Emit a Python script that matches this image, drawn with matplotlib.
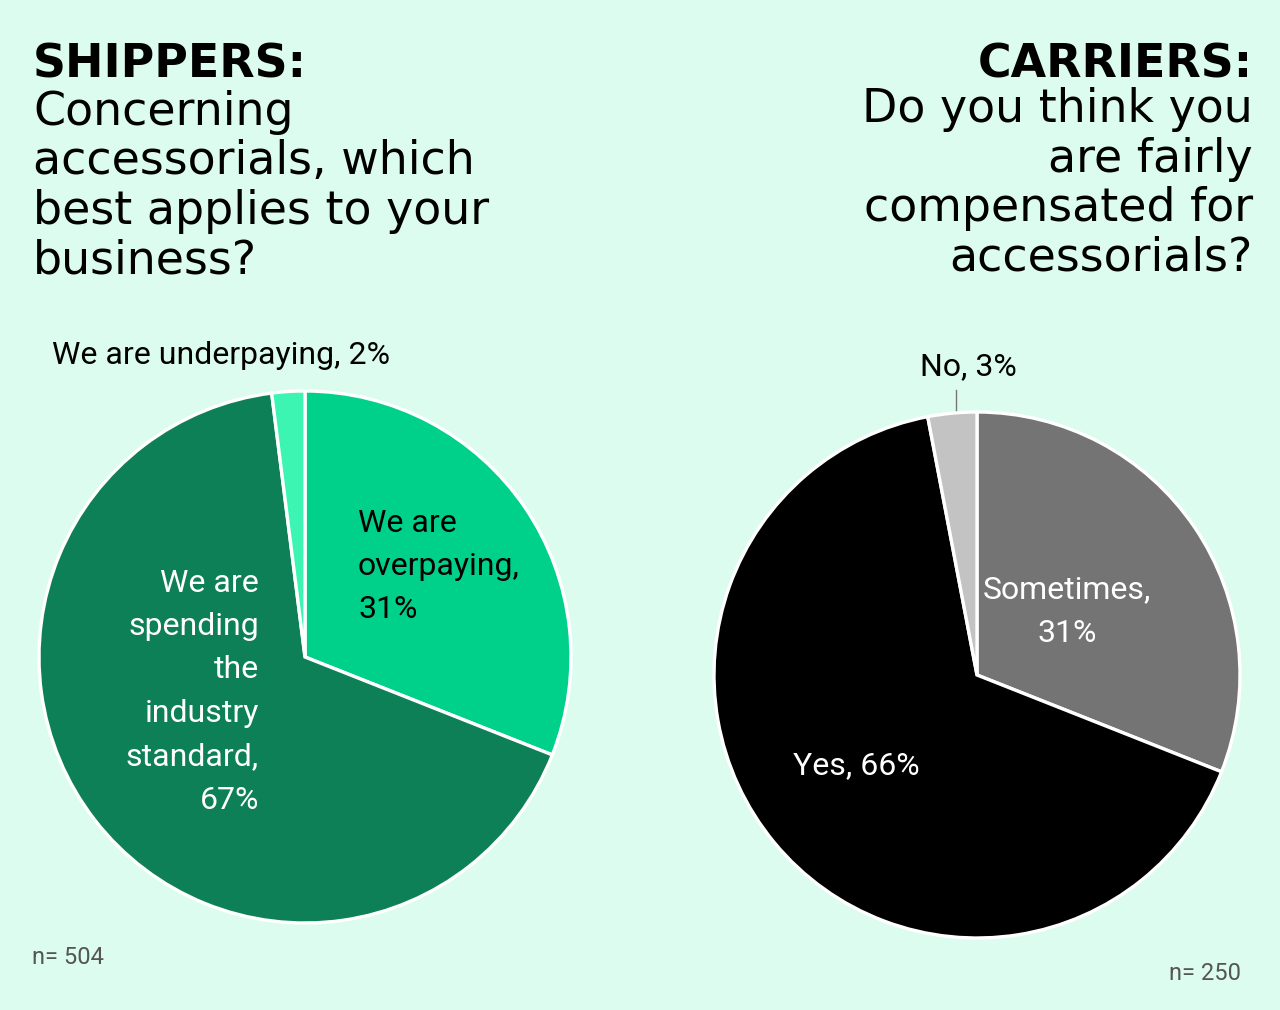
import matplotlib
matplotlib.use("Agg")
import matplotlib.pyplot as plt
from matplotlib import font_manager

# ---------------- data ----------------
shipper_labels = ["We are overpaying", "We are spending the industry standard", "We are underpaying"]
shipper_values = [31, 67, 2]
shipper_colors = ["#00d18a", "#0e8058", "#3cf5b3"]
shipper_n = 504

carrier_labels = ["Sometimes", "Yes", "No"]
carrier_values = [31, 66, 3]
carrier_colors = ["#747474", "#000000", "#c3c3c3"]
carrier_n = 250

BG = "#dcfcf0"
W, H = 1280, 1010

names = {f.name for f in font_manager.fontManager.ttflist}
label_font = [f for f in ["Liberation Sans Narrow", "Roboto", "DejaVu Sans"] if f in names]
title_font = ["DejaVu Sans"]

fig = plt.figure(figsize=(W / 100, H / 100), dpi=100, facecolor=BG)


def fx(x):
    return x / W


def fy(y):
    return 1 - y / H


def pie_axes(cx, cy, r):
    return fig.add_axes([fx(cx - r), fy(cy + r), 2 * r / W, 2 * r / H])


def finish(ax):
    ax.set_xlim(-1, 1)
    ax.set_ylim(-1, 1)
    ax.set_aspect("equal")
    ax.axis("off")


# ---------------- pies ----------------
ax1 = pie_axes(305, 657, 266)
ax1.pie(shipper_values, colors=shipper_colors, startangle=90, counterclock=False,
        radius=1, wedgeprops=dict(edgecolor="white", linewidth=2.4))
finish(ax1)

ax2 = pie_axes(977, 675, 263)
ax2.pie(carrier_values, colors=carrier_colors, startangle=90, counterclock=False,
        radius=1, wedgeprops=dict(edgecolor="white", linewidth=2.4))
finish(ax2)

# ---------------- titles ----------------
tsize = 33
fig.text(fx(33), fy(77), "SHIPPERS:", fontsize=tsize, fontweight="bold",
         family=title_font, ha="left", va="baseline")
for i, line in enumerate(["Concerning", "accessorials, which",
                          "best applies to your", "business?"]):
    fig.text(fx(33), fy(125 + 49.5 * i), line, fontsize=tsize, family=title_font,
             ha="left", va="baseline")

fig.text(fx(1253), fy(77), "CARRIERS:", fontsize=tsize, fontweight="bold",
         family=title_font, ha="right", va="baseline")
for i, line in enumerate(["Do you think you", "are fairly",
                          "compensated for", "accessorials?"]):
    fig.text(fx(1253), fy(122 + 49.5 * i), line, fontsize=tsize, family=title_font,
             ha="right", va="baseline")

# ---------------- slice labels ----------------
lsize = 23
lh = 43.5

fig.text(fx(52), fy(355), f"{shipper_labels[2]}, {shipper_values[2]}%",
         fontsize=lsize, family=label_font, color="black", ha="left", va="center")

for i, line in enumerate(["We are", "overpaying,", f"{shipper_values[0]}%"]):
    fig.text(fx(358), fy(523 + lh * i), line, fontsize=lsize, family=label_font,
             color="black", ha="left", va="center")

for i, line in enumerate(["We are", "spending", "the", "industry", "standard,",
                          f"{shipper_values[1]}%"]):
    fig.text(fx(259), fy(583 + lh * i), line, fontsize=lsize, family=label_font,
             color="white", ha="right", va="center")

for i, line in enumerate([f"{carrier_labels[0]},", f"{carrier_values[0]}%"]):
    fig.text(fx(1067), fy(590 + 44 * i), line, fontsize=lsize, family=label_font,
             color="white", ha="center", va="center")

fig.text(fx(856), fy(766), f"{carrier_labels[1]}, {carrier_values[1]}%",
         fontsize=lsize, family=label_font, color="white", ha="center", va="center")

fig.text(fx(968), fy(367), f"{carrier_labels[2]}, {carrier_values[2]}%",
         fontsize=lsize, family=label_font, color="black", ha="center", va="center")
fig.add_artist(plt.Line2D([fx(956), fx(956)], [fy(390), fy(410)],
                          color="#777777", linewidth=1))

# ---------------- n labels ----------------
fig.text(fx(32), fy(958), f"n= {shipper_n}", fontsize=17, family=label_font,
         color="#555555", ha="left", va="center")
fig.text(fx(1241), fy(973), f"n= {carrier_n}", fontsize=17, family=label_font,
         color="#555555", ha="right", va="center")

fig.savefig("out.png", dpi=100, facecolor=BG)
